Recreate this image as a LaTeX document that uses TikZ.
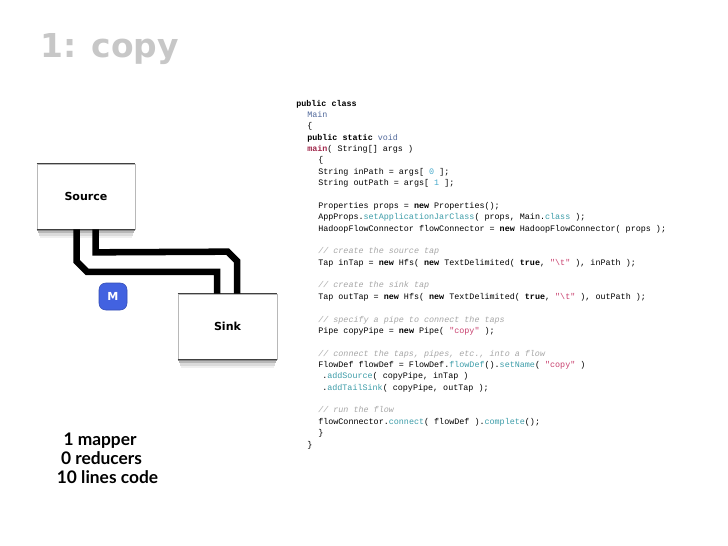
\documentclass[tikz,border=0pt]{standalone}
\usepackage{fontspec}
\setmonofont{Liberation Mono}
\newfontfamily\dvs{DejaVu Sans}
\newfontfamily\lato{Lato}
\usetikzlibrary{calc}
\definecolor{ctype}{HTML}{50689A}
\definecolor{cmain}{HTML}{A0284C}
\definecolor{cfunc}{HTML}{3C9CA8}
\definecolor{cnum}{HTML}{48AACB}
\definecolor{cstr}{HTML}{C8406E}
\definecolor{ccmt}{HTML}{A6A6A6}
\definecolor{mblue}{HTML}{4262E0}
\newcommand\kwd[1]{\textbf{#1}}
\newcommand\typ[1]{\textcolor{ctype}{#1}}
\newcommand\fnc[1]{\textcolor{cfunc}{#1}}
\newcommand\numl[1]{\textcolor{cnum}{#1}}
\newcommand\strl[1]{\textcolor{cstr}{#1}}
\newcommand\cmt[1]{\textcolor{ccmt}{\itshape #1}}
\newcommand\mnm[1]{\textcolor{cmain}{\textbf{#1}}}
\newcommand\boxshadow[1]{%
  \fill[black!6] ($(#1.south west)+(3,0)$) rectangle ($(#1.south east)+(-3,9)$);
  \fill[black!14] ($(#1.south west)+(2,0)$) rectangle ($(#1.south east)+(-2,6.5)$);
  \fill[black!28] ($(#1.south west)+(1,0)$) rectangle ($(#1.south east)+(-1,4)$);
  \fill[black!45] (#1.south west) rectangle ($(#1.south east)+(0,2)$);}
\tikzset{
  code/.style={anchor=base west, inner sep=0pt, font=\ttfamily\fontsize{6.3}{7.5}\selectfont},
  box/.style={draw=black!28, line width=0.5pt, fill=white, inner sep=0pt,
    font=\dvs\bfseries\fontsize{8.3}{10}\selectfont},
  edge/.style={draw=black!75, line width=0.8pt},
  pipe/.style={line width=4.9pt, line join=miter, line cap=butt},
  badge/.style={fill=mblue, draw=mblue!80!black, line width=0.4pt, rounded corners=5pt, text=white,
    font=\dvs\bfseries\fontsize{8.3}{10}\selectfont, inner sep=0pt},
  summary/.style={anchor=base, inner sep=0pt, font=\lato\bfseries\fontsize{13}{15}\selectfont},
}
\begin{document}
\begin{tikzpicture}[x=0.75pt, y=-0.75pt]
\useasboundingbox (0,0) rectangle (728,546);
% title
\node[anchor=base west, inner sep=0pt, text=black!22, font=\dvs\bfseries\fontsize{24.7}{30}\selectfont] (title) at (40,57) {1: copy};
% boxes
\node[box, minimum width=73.5pt, minimum height=48.75pt] (src) at (86,196.5) {Source};
\node[box, minimum width=74.25pt, minimum height=48.75pt] (snk) at (227.5,326.5) {Sink};
% shadows below boxes
\boxshadow{src}
\boxshadow{snk}
\draw[edge] (src.north west) -- (src.north east);
\draw[edge] (src.south west) -- (src.south east);
\draw[edge] (snk.north west) -- (snk.north east);
\draw[edge] (snk.south west) -- (snk.south east);
% pipes
\coordinate (o1) at ($(src.south west)+(40,0)$);
\coordinate (o2) at ($(snk.north west)+(39.5,0)$);
\coordinate (i1) at ($(src.south west)+(59,0)$);
\coordinate (i2) at ($(snk.north west)+(59.5,0)$);
\draw[pipe] (o1) -- ++(0,32) -- ++(10.5,10.5) -| (o2);
\draw[pipe] (i1) -- ++(0,23) -- ($(i2)+(-9.5,-42)$) -- ++(9.5,9.5) -- (i2);
% badge
\node[badge, minimum width=21pt, minimum height=20.25pt] (m) at (113,296.5) {M};
% summary
\node[summary] (t1) at (100,445) {1 mapper};
\node[summary] (t2) at (101.5,464) {0 reducers};
\node[summary] (t3) at (107.5,483) {10 lines code};
% code
\def\lp{11.37}
\node[code] (c0) at (296,106) {\kwd{public class}};
\node[code] (c1) at (307,106+1*\lp) {\typ{Main}};
\node[code] (c2) at (307,106+2*\lp) {\{};
\node[code] (c3) at (307,106+3*\lp) {\kwd{public static} \typ{void}};
\node[code] (c4) at (307,106+4*\lp) {\mnm{main}( String[] args )};
\node[code] (c5) at (318,106+5*\lp) {\{};
\node[code] (c6) at (318,106+6*\lp) {String inPath = args[ \numl{0} ];};
\node[code] (c7) at (318,106+7*\lp) {String outPath = args[ \numl{1} ];};
\node[code] (c9) at (318,106+9*\lp) {Properties props = \kwd{new} Properties();};
\node[code] (c10) at (318,106+10*\lp) {AppProps.\fnc{setApplicationJarClass}( props, Main.\fnc{class} );};
\node[code] (c11) at (318,106+11*\lp) {HadoopFlowConnector flowConnector = \kwd{new} HadoopFlowConnector( props );};
\node[code] (c13) at (318,106+13*\lp) {\cmt{// create the source tap}};
\node[code] (c14) at (318,106+14*\lp) {Tap inTap = \kwd{new} Hfs( \kwd{new} TextDelimited( \kwd{true}, \strl{"\textbackslash t"} ), inPath );};
\node[code] (c16) at (318,106+16*\lp) {\cmt{// create the sink tap}};
\node[code] (c17) at (318,106+17*\lp) {Tap outTap = \kwd{new} Hfs( \kwd{new} TextDelimited( \kwd{true}, \strl{"\textbackslash t"} ), outPath );};
\node[code] (c19) at (318,106+19*\lp) {\cmt{// specify a pipe to connect the taps}};
\node[code] (c20) at (318,106+20*\lp) {Pipe copyPipe = \kwd{new} Pipe( \strl{"copy"} );};
\node[code] (c22) at (318,106+22*\lp) {\cmt{// connect the taps, pipes, etc., into a flow}};
\node[code] (c23) at (318,106+23*\lp) {FlowDef flowDef = FlowDef.\fnc{flowDef}().\fnc{setName}( \strl{"copy"} )};
\node[code] (c24) at (322,106+24*\lp) {.\fnc{addSource}( copyPipe, inTap )};
\node[code] (c25) at (322,106+25*\lp) {.\fnc{addTailSink}( copyPipe, outTap );};
\node[code] (c27) at (318,106+27*\lp) {\cmt{// run the flow}};
\node[code] (c28) at (318,106+28*\lp) {flowConnector.\fnc{connect}( flowDef ).\fnc{complete}();};
\node[code] (c29) at (318,106+29*\lp) {\}};
\node[code] (c30) at (307,106+30*\lp) {\}};
\end{tikzpicture}
\end{document}
